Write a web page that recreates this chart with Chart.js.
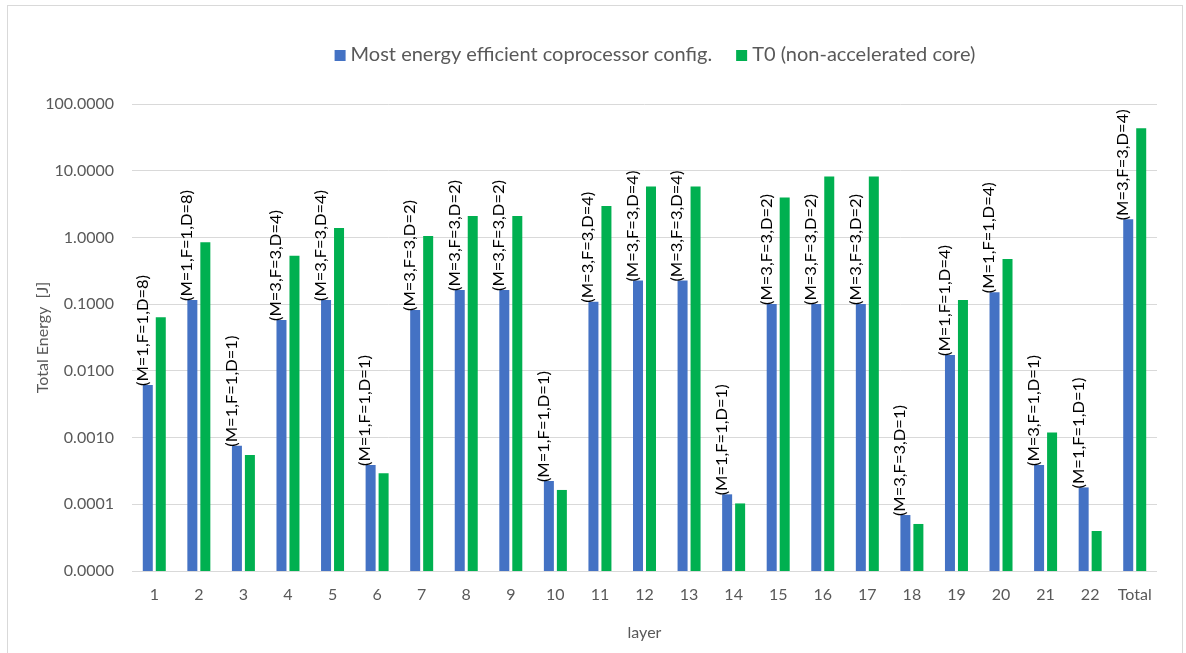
<!DOCTYPE html>
<html>
<head>
<meta charset="utf-8">
<script src="https://cdn.jsdelivr.net/npm/chart.js@4.4.0/dist/chart.umd.min.js"></script>
<style>
  html, body { margin: 0; padding: 0; background: #fff; }
  #wrap { position: relative; width: 1186px; height: 653px; }
</style>
</head>
<body>
<div id="wrap"><canvas id="c" width="1186" height="653"></canvas></div>
<script>
// Per-layer energy, in joules
const layers = ['1','2','3','4','5','6','7','8','9','10','11','12','13','14','15','16','17','18','19','20','21','22','Total'];
const coprocEnergy = [0.00615, 0.1156, 0.000757, 0.0579, 0.1156, 0.000388, 0.0818, 0.163, 0.163, 0.000223,
                      0.109, 0.2256, 0.2256, 0.000141, 0.1007, 0.1007, 0.1007, 0.000069, 0.0173, 0.151,
                      0.000388, 0.000179, 1.87];
const baselineEnergy = [0.0637, 0.847, 0.000548, 0.533, 1.387, 0.000291, 1.05, 2.10, 2.10, 0.000164,
                        2.97, 5.78, 5.78, 0.000103, 3.98, 8.17, 8.17, 0.0000507, 0.1156, 0.476,
                        0.00119, 0.0000398, 43.4];
const configLabels = ['(M=1,F=1,D=8)','(M=1,F=1,D=8)','(M=1,F=1,D=1)','(M=3,F=3,D=4)','(M=3,F=3,D=4)',
                      '(M=1,F=1,D=1)','(M=3,F=3,D=2)','(M=3,F=3,D=2)','(M=3,F=3,D=2)','(M=1,F=1,D=1)',
                      '(M=3,F=3,D=4)','(M=3,F=3,D=4)','(M=3,F=3,D=4)','(M=1,F=1,D=1)','(M=3,F=3,D=2)',
                      '(M=3,F=3,D=2)','(M=3,F=3,D=2)','(M=3,F=3,D=1)','(M=1,F=1,D=4)','(M=1,F=1,D=4)',
                      '(M=3,F=1,D=1)','(M=1,F=1,D=1)','(M=3,F=3,D=4)'];
const yTicks = [0.00001, 0.0001, 0.001, 0.01, 0.1, 1, 10, 100];

const FONT = 'Lato, "Open Sans", "Liberation Sans", sans-serif';
const AXIS_GREY = '#595959';
const GRID_GREY = '#D9D9D9';

// Light frame around the whole chart
const framePlugin = {
  id: 'frame',
  beforeDraw(chart) {
    const ctx = chart.ctx;
    ctx.save();
    ctx.strokeStyle = GRID_GREY;
    ctx.lineWidth = 1;
    ctx.strokeRect(7.5, 5.5, 1175, 700);
    ctx.restore();
  }
};

// Legend row above the plot: small square swatch, then the series name
const legendRowPlugin = {
  id: 'legendRow',
  afterDraw(chart) {
    const ctx = chart.ctx;
    const box = 11, gap = 5, spacing = 24, centerX = 655, baseY = 61;
    ctx.save();
    ctx.font = '20px ' + FONT;
    const items = chart.data.datasets.map(ds => ({
      text: ds.label, color: ds.backgroundColor, w: ctx.measureText(ds.label).width
    }));
    const total = items.reduce((s, it) => s + box + gap + it.w, 0) + spacing * (items.length - 1);
    let x = centerX - total / 2;
    ctx.textAlign = 'left';
    ctx.textBaseline = 'alphabetic';
    items.forEach(it => {
      ctx.fillStyle = it.color;
      ctx.fillRect(x, baseY - box, box, box);
      x += box + gap;
      ctx.fillStyle = AXIS_GREY;
      ctx.fillText(it.text, x, baseY);
      x += it.w + spacing;
    });
    ctx.restore();
  }
};

// Vertical configuration labels sitting on top of the coprocessor bars
const configLabelPlugin = {
  id: 'configLabels',
  afterDatasetsDraw(chart) {
    const ctx = chart.ctx;
    const meta = chart.getDatasetMeta(0);
    ctx.save();
    ctx.font = '15px ' + FONT;
    ctx.fillStyle = '#000';
    ctx.textAlign = 'left';
    ctx.textBaseline = 'middle';
    meta.data.forEach((bar, i) => {
      ctx.save();
      ctx.translate(bar.x - 5, bar.y + 1);
      ctx.rotate(-Math.PI / 2);
      ctx.scale(1.1, 1);
      ctx.fillText(configLabels[i], 0, 0);
      ctx.restore();
    });
    ctx.restore();
  }
};

new Chart(document.getElementById('c'), {
  type: 'bar',
  data: {
    labels: layers,
    datasets: [
      {
        label: 'Most energy efficient coprocessor config.',
        data: coprocEnergy,
        backgroundColor: '#4472C4',
        categoryPercentage: 0.583,
        barPercentage: 0.77
      },
      {
        label: 'T0 (non-accelerated core)',
        data: baselineEnergy,
        backgroundColor: '#00B050',
        categoryPercentage: 0.583,
        barPercentage: 0.77
      }
    ]
  },
  options: {
    responsive: false,
    animation: false,
    layout: { padding: { left: 10, right: 29, top: 104, bottom: 0 } },
    plugins: {
      legend: { display: false },
      tooltip: { enabled: false }
    },
    scales: {
      x: {
        grid: { display: false, drawTicks: false },
        border: { display: false },
        ticks: { color: AXIS_GREY, font: { family: FONT, size: 16 }, padding: 14, maxRotation: 0 },
        title: { display: true, text: 'layer', color: AXIS_GREY, font: { family: FONT, size: 16 }, padding: { top: 4, bottom: 11 } },
        afterFit(scale) { scale.height = 82; }
      },
      y: {
        type: 'logarithmic',
        min: 0.00001,
        max: 100,
        grid: { color: GRID_GREY, lineWidth: 1, drawTicks: false },
        border: { display: false },
        afterBuildTicks(scale) { scale.ticks = yTicks.map(v => ({ value: v })); },
        ticks: {
          color: AXIS_GREY,
          font: { family: FONT, size: 16 },
          padding: 18,
          callback: (v) => Number(v).toFixed(4)
        },
        title: { display: true, text: 'Total Energy  [J]', color: AXIS_GREY, font: { family: FONT, size: 16 }, padding: { top: 23, bottom: 0 } },
        afterFit(scale) { scale.width = 122; }
      }
    }
  },
  plugins: [framePlugin, legendRowPlugin, configLabelPlugin]
});
</script>
</body>
</html>
